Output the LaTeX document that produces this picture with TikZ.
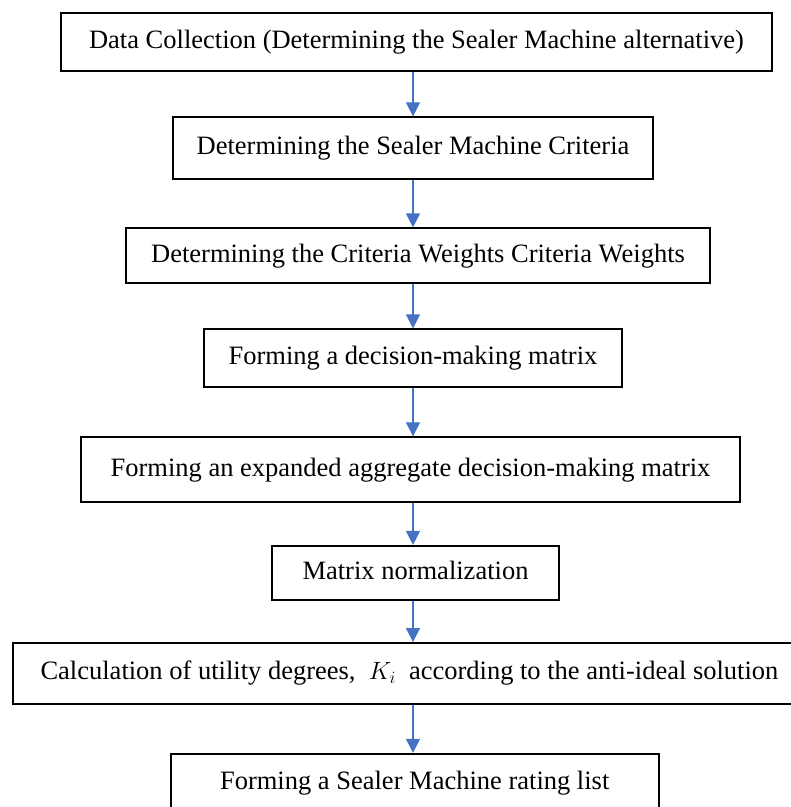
\documentclass[tikz,border=0pt]{standalone}
\usepackage{fontspec}
\setmainfont{Liberation Serif}
\usetikzlibrary{arrows.meta}

\definecolor{flowblue}{HTML}{4472C4}

\begin{document}
\begin{tikzpicture}[
    x = 1pt, y = -1pt,
    every node/.style = {font = \fontsize{26.5}{30}\selectfont},
    stepbox/.style = {draw, line width = 1.8pt, inner sep = 0pt,
                      text height = 18.5pt, text depth = 5.5pt},
    flow/.style = {draw = flowblue, line width = 1.2pt,
                   -{Triangle[length = 14pt, width = 14pt]}}]

\useasboundingbox (0,0) rectangle (791,807);
\coordinate (axis) at (413,0);

\node[stepbox, minimum width = 711pt, minimum height = 58pt] (collect) at (416.5,41.8)
	{Data Collection (Determining the Sealer Machine alternative)};
\node[stepbox, minimum width = 480pt, minimum height = 62pt] (criteria) at (413,148.3)
	{Determining the Sealer Machine Criteria};
\node[stepbox, minimum width = 584pt, minimum height = 55pt] (weights) at (418,255.8)
	{Determining the Criteria Weights Criteria Weights};
\node[stepbox, minimum width = 418pt, minimum height = 58pt] (matrix) at (413,358.3)
	{Forming a decision-making matrix};
\node[stepbox, minimum width = 659pt, minimum height = 64.7pt] (expanded) at (410.5,469.6)
	{Forming an expanded aggregate decision-making matrix};
\node[stepbox, minimum width = 287pt, minimum height = 54pt] (normal) at (415.5,572.8)
	{Matrix normalization};
\node[stepbox, minimum width = 793pt, minimum height = 60.7pt] (utility) at (409.5,673.3)
	{Calculation of utility degrees,~ $K_i$~ according to the anti-ideal solution};
\node[stepbox, minimum width = 488pt, minimum height = 58pt] (rating) at (414.7,782.7)
	{Forming a Sealer Machine rating list};

% arrows between the steps
\foreach \a/\b in {collect/criteria, criteria/weights, weights/matrix,
                   matrix/expanded, expanded/normal, normal/utility, utility/rating}
	\draw[flow] (\a.south -| axis) -- (\b.north -| axis);
\end{tikzpicture}
\end{document}
